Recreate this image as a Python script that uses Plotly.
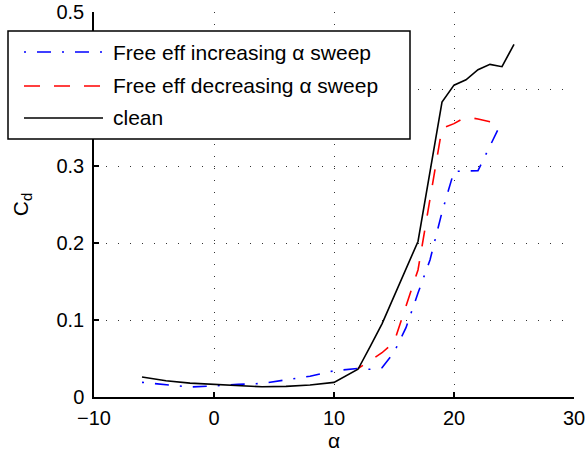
import plotly.graph_objects as go

# Angle of attack (deg) and drag coefficient for each case
alpha_inc = [-6, -4, -2, 0, 2, 4, 6, 8, 10, 12, 13, 14, 15, 16, 17, 18, 19, 20, 22, 24]
cd_inc = [0.019, 0.016, 0.013, 0.0145, 0.0165, 0.0175, 0.0225, 0.027, 0.034, 0.037,
          0.036, 0.038, 0.058, 0.09, 0.135, 0.178, 0.24, 0.293, 0.294, 0.358]

alpha_dec = [24, 23, 22, 21, 20, 19, 17, 15, 14, 12]
cd_dec = [0.356, 0.3575, 0.361, 0.364, 0.355, 0.349, 0.165, 0.071, 0.0575, 0.037]

alpha_clean = [-6, -4, -2, 0, 2, 4, 6, 8, 10, 12, 13, 14, 17, 19, 20, 21, 22, 23, 24, 25]
cd_clean = [0.026, 0.021, 0.018, 0.0165, 0.0145, 0.0133, 0.0138, 0.0156, 0.019, 0.036,
            0.065, 0.095, 0.202, 0.383, 0.405, 0.412, 0.425, 0.432, 0.429, 0.458]

x_ticks = [-10, 0, 10, 20, 30]
y_ticks = [0, 0.1, 0.2, 0.3, 0.4, 0.5]

names = ["Free eff increasing \u03b1 sweep", "Free eff decreasing \u03b1 sweep", "clean"]
colors = ["#0000ff", "#ff0000", "#000000"]
dashes = ["2px,11px,14px,11px", "0px,12px,16px,3px", "solid"]

FONT = "Liberation Sans, Arial, Helvetica, sans-serif"

fig = go.Figure()
for xs, ys, name, col, dsh in zip([alpha_inc, alpha_dec, alpha_clean],
                                  [cd_inc, cd_dec, cd_clean], names, colors, dashes):
    fig.add_trace(go.Scatter(x=xs, y=ys, mode="lines", name=name, showlegend=False,
                             line=dict(color=col, width=1.6, dash=dsh)))

axis_common = dict(
    showline=True, linecolor="black", linewidth=1.5, mirror=False,
    ticks="inside", ticklen=5, tickwidth=1.5, tickcolor="black",
    showgrid=True, gridcolor="#333", gridwidth=1.2, griddash="1px,11px",
    zeroline=False, automargin=False,
    tickfont=dict(family=FONT, size=20, color="black"),
)

fig.update_xaxes(range=[-10, 30], tickvals=x_ticks, ticklabelstandoff=2,
                 title=dict(text="\u03b1", font=dict(family=FONT, size=21, color="black"), standoff=4),
                 **axis_common)
fig.update_yaxes(range=[0, 0.5], tickvals=y_ticks, ticklabelstandoff=4,
                 title=dict(text="C<sub>d</sub>", font=dict(family=FONT, size=21, color="black"), standoff=22),
                 **axis_common)

# Boxed legend in the upper left corner
L, W, T, H = 94, 480, 12, 385
px = lambda v: (v - L) / W
py = lambda v: (T + H - v) / H

shapes = [dict(type="rect", xref="paper", yref="paper", x0=px(8), x1=px(410), y0=py(139), y1=py(31),
               line=dict(color="black", width=1.5), fillcolor="white", layer="above")]
annotations = []
for row_y, name, col, dsh in zip([52, 86, 118], names, colors,
                                 ["2px,11px,14px,11px", "16px,14px", "solid"]):
    shapes.append(dict(type="line", xref="paper", yref="paper", x0=px(24), x1=px(103),
                       y0=py(row_y), y1=py(row_y), line=dict(color=col, width=1.5, dash=dsh)))
    annotations.append(dict(xref="paper", yref="paper", x=px(111), y=py(row_y), text=name,
                            showarrow=False, xanchor="left", yanchor="middle",
                            font=dict(family=FONT, size=21, color="black")))

fig.update_layout(
    width=587, height=455,
    margin=dict(l=L, r=587 - L - W, t=T, b=455 - T - H),
    plot_bgcolor="white", paper_bgcolor="white",
    shapes=shapes, annotations=annotations,
)

fig.write_html("out.html")
